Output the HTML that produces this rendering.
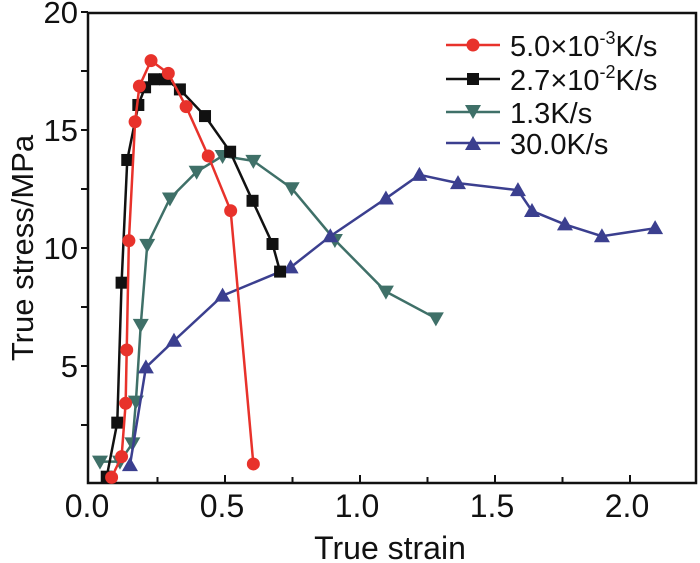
<!DOCTYPE html>
<html><head><meta charset="utf-8"><style>
html,body{margin:0;padding:0;background:#fff;}
svg{display:block;font-family:"Liberation Sans",Arial,sans-serif;}
</style></head><body>
<svg id="chart" width="700" height="563" viewBox="0 0 700 563" xmlns="http://www.w3.org/2000/svg">
<g id="plot"></g>
<text x="390" y="559" font-size="32" text-anchor="middle" fill="#111">True strain</text>
<text transform="translate(33,248) rotate(-90)" font-size="31" text-anchor="middle" fill="#111">True stress/MPa</text>
<g font-size="29" fill="#111">
 <g><line x1="446" y1="45" x2="500" y2="45" stroke="#e8322b" stroke-width="2.5"/><circle cx="473" cy="45" r="6.5" fill="#e8322b"/><text x="510" y="56">5.0×10<tspan font-size="18" dy="-12">-3</tspan><tspan dy="12">K/s</tspan></text></g>
 <g><line x1="446" y1="79" x2="500" y2="79" stroke="#111" stroke-width="2.5"/><rect x="467" y="73" width="12" height="12" fill="#111"/><text x="510" y="90">2.7×10<tspan font-size="18" dy="-12">-2</tspan><tspan dy="12">K/s</tspan></text></g>
 <g><line x1="446" y1="112" x2="500" y2="112" stroke="#3f7068" stroke-width="2.5"/><polygon points="465,105 481,105 473,119" fill="#3f7068"/><text x="510" y="123">1.3K/s</text></g>
 <g><line x1="446" y1="143" x2="500" y2="143" stroke="#3b3f8f" stroke-width="2.5"/><polygon points="465,150 481,150 473,136" fill="#3b3f8f"/><text x="510" y="154">30.0K/s</text></g>
</g>
</svg>
<script>
const xTicks = [0, 0.5, 1.0, 1.5, 2.0];
const xTickLabels = ["0.0", "0.5", "1.0", "1.5", "2.0"];
const yTicks = [5, 10, 15, 20];
const yTickLabels = ["5", "10", "15", "20"];
const redX = [0.08, 0.117, 0.132, 0.136, 0.144, 0.167, 0.183, 0.226, 0.29, 0.356, 0.438, 0.521, 0.605];
const redY = [0.28, 1.16, 3.42, 5.68, 10.31, 15.35, 16.86, 17.94, 17.4, 15.99, 13.9, 11.58, 0.85];
const blackX = [0.062, 0.101, 0.117, 0.138, 0.179, 0.204, 0.237, 0.278, 0.333, 0.426, 0.519, 0.602, 0.676, 0.704];
const blackY = [0.31, 2.6, 8.53, 13.73, 16.06, 16.81, 17.15, 17.15, 16.72, 15.59, 14.08, 12.0, 10.17, 9.0];
const greenX = [0.037, 0.111, 0.157, 0.17, 0.188, 0.212, 0.296, 0.395, 0.491, 0.605, 0.747, 0.907, 1.096, 1.281];
const greenY = [0.95, 0.95, 1.72, 3.49, 6.74, 10.13, 12.1, 13.23, 13.9, 13.69, 12.53, 10.34, 8.15, 7.02];
const blueX = [0.148, 0.207, 0.311, 0.491, 0.743, 0.89, 1.096, 1.22, 1.363, 1.585, 1.637, 1.759, 1.896, 2.093];
const blueY = [0.8, 4.94, 6.07, 7.98, 9.18, 10.5, 12.1, 13.1, 12.75, 12.45, 11.57, 11.0, 10.5, 10.84];

const L = 88, R = 696, T = 13, B = 483;
function sx(v){ return 90 + v * 270; }
function sy(v){ return 484 - v * 23.6; }
const NS = "http://www.w3.org/2000/svg";
const plot = document.getElementById("plot");
function mk(tag, attrs, parent){
  const e = document.createElementNS(NS, tag);
  for (const k in attrs) e.setAttribute(k, attrs[k]);
  (parent || plot).appendChild(e);
  return e;
}
const frame = mk("rect", {x:L, y:T, width:R-L, height:B-T, fill:"none", stroke:"#111", "stroke-width":2.5});


for (let v = 0.25; v < 2.25; v += 0.25) {
  const major = Math.abs(v*2 - Math.round(v*2)) < 1e-6;
  const t = mk("line", {x1:sx(v), x2:sx(v), y1:B, y2:B-(major?8:6), stroke:"#111", "stroke-width":2});
  
  
}
xTicks.forEach((v,i)=>{
  const t = mk("text", {x:sx(v)-3, y:517, "font-size":32, "text-anchor":"middle", fill:"#111"});
  t.textContent = xTickLabels[i];
  
  
});
for (let v = 2.5; v <= 20; v += 2.5) {
  const t = mk("line", {x1:L, x2:L-7, y1:sy(v), y2:sy(v), stroke:"#111", "stroke-width":2});
  
  
}
yTicks.forEach((v,i)=>{
  const t = mk("text", {x:78, y:sy(v)+11, "font-size":31, "text-anchor":"end", fill:"#111"});
  t.textContent = yTickLabels[i];
  
  
});
function series(xs, ys, color, shape, name){
  const g = mk("g", {});
  
  
  const pts = xs.map((x,i)=>sx(x)+","+sy(ys[i])).join(" ");
  const pl = mk("polyline", {points:pts, fill:"none", stroke:color, "stroke-width":2.5}, g);
  
  
  xs.forEach((x,i)=>{
    const cx = sx(x), cy = sy(ys[i]);
    let m;
    if (shape === "circle") m = mk("circle", {cx:cx, cy:cy, r:6.5, fill:color}, g);
    else if (shape === "square") m = mk("rect", {x:cx-6, y:cy-6, width:12, height:12, fill:color}, g);
    else if (shape === "down") m = mk("polygon", {points:(cx-8)+","+(cy-6)+" "+(cx+8)+","+(cy-6)+" "+cx+","+(cy+8), fill:color}, g);
    else m = mk("polygon", {points:(cx-8)+","+(cy+6)+" "+(cx+8)+","+(cy+6)+" "+cx+","+(cy-8), fill:color}, g);
    
    
  });
}
series(greenX, greenY, "#3f7068", "down", "series-1-3ks");
series(blueX, blueY, "#3b3f8f", "up", "series-30ks");
series(blackX, blackY, "#111111", "square", "series-2-7e-2ks");
series(redX, redY, "#e8322b", "circle", "series-5e-3ks");
</script>
</body></html>
